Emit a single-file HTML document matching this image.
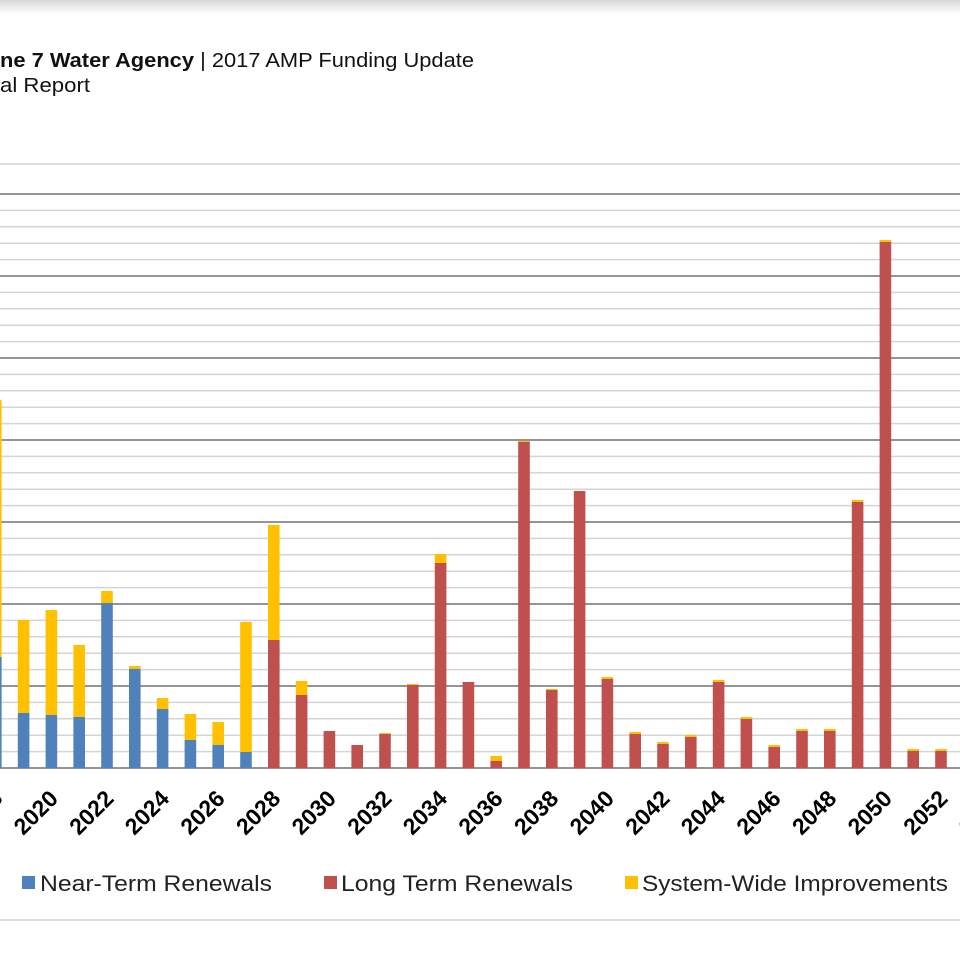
<!DOCTYPE html>
<html><head><meta charset="utf-8"><style>
body{margin:0;width:960px;height:960px;overflow:hidden;background:#fff;font-family:"Liberation Sans",Arial,sans-serif;}
</style></head><body>
<svg width="960" height="960" xmlns="http://www.w3.org/2000/svg">
<defs><linearGradient id="sh" x1="0" y1="0" x2="0" y2="1"><stop offset="0" stop-color="#d8d8d8"/><stop offset="1" stop-color="#fff"/></linearGradient></defs>
<rect x="0" y="0" width="960" height="14" fill="url(#sh)"/>
<text x="0" y="67" font-size="20.5" fill="#111" textLength="474" lengthAdjust="spacingAndGlyphs"><tspan font-weight="bold">ne 7 Water Agency</tspan> | 2017 AMP Funding Update</text>
<text x="0" y="92" font-size="20.5" fill="#111" textLength="90" lengthAdjust="spacingAndGlyphs">al Report</text>
<g id="grid"></g>
<g id="bars"></g>
<g id="labels" font-size="23" font-weight="bold" fill="#000"></g>
<rect x="22" y="876" width="13" height="13" fill="#4f81bd"/>
<text x="40" y="891" font-size="22" fill="#222" textLength="232" lengthAdjust="spacingAndGlyphs">Near-Term Renewals</text>
<rect x="324" y="876" width="13" height="13" fill="#c0504d"/>
<text x="341" y="891" font-size="22" fill="#222" textLength="232" lengthAdjust="spacingAndGlyphs">Long Term Renewals</text>
<rect x="625" y="876" width="13" height="13" fill="#ffc000"/>
<text x="642" y="891" font-size="22" fill="#222" textLength="306" lengthAdjust="spacingAndGlyphs">System-Wide Improvements</text>
<line x1="0" y1="920" x2="960" y2="920" stroke="#ddd" stroke-width="2"/>
</svg>
<script>
var ns="http://www.w3.org/2000/svg";
function el(p,t,a){var e=document.createElementNS(ns,t);for(var k in a)e.setAttribute(k,a[k]);p.appendChild(e);return e;}
var g=document.getElementById("grid");
el(g,"line",{x1:0,x2:960,y1:164,y2:164,stroke:"#d4d4d4","stroke-width":1.5});
for(var i=0;i<=35;i++){var y=194+i*16.4;var dark=i%5==0;
el(g,"line",{x1:0,x2:960,y1:y,y2:y,stroke:dark?"#707070":"#d4d4d4","stroke-width":dark?1.5:1.5});}
var d=[[2018,657,400,0],[2019,713,620,0],[2020,715,610,0],[2021,717,645,0],[2022,603,591,0],[2023,669,666,0],[2024,709,698,0],[2025,740,714,0],[2026,745,722,0],[2027,752,622,0],
[2028,640,525,1],[2029,695,681,1],[2030,731,731,1],[2031,745,745,1],[2032,734,733,1],[2033,685,684,1],[2034,563,554,1],[2035,682,682,1],[2036,761,756,1],[2037,442,441,1],[2038,690,689,1],[2039,491,491,1],[2040,679,677,1],[2041,734,732,1],[2042,744,742,1],[2043,737,735,1],[2044,682,680,1],[2045,719,717,1],[2046,747,745,1],[2047,731,729,1],[2048,731,729,1],[2049,502,500,1],[2050,242,240,1],[2051,751,749,1],[2052,751,749,1]];
var b=document.getElementById("bars");
d.forEach(function(r){var c=107+(r[0]-2022)*27.8;var x=c-5.8;
el(b,"rect",{x:x,y:r[2],width:11.6,height:r[1]-r[2],fill:"#ffc000"});
el(b,"rect",{x:x,y:r[1],width:11.6,height:768-r[1],fill:r[3]?"#c0504d":"#4f81bd"});});
var L=document.getElementById("labels");
for(var yr=2018;yr<=2054;yr+=2){var c=107+(yr-2022)*27.8+8;
var t=el(L,"text",{x:0,y:0,"text-anchor":"end",transform:"translate("+c+",800) rotate(-45)"});t.textContent=yr;}
</script>
</body></html>
